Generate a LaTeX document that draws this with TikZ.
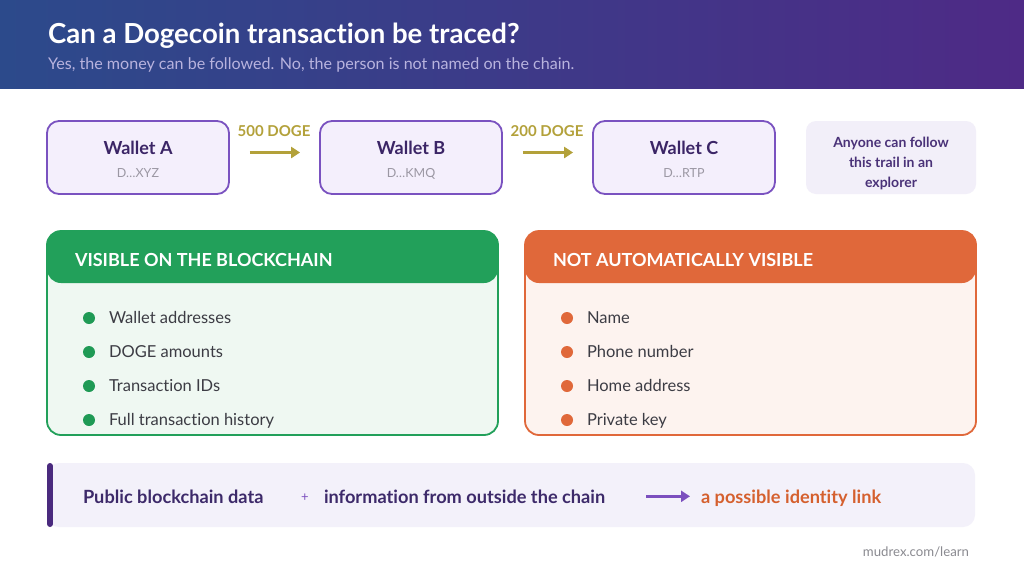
\documentclass[tikz,border=0pt]{standalone}
\usepackage{fontspec}
\setmainfont{Lato}[Ligatures=NoCommon]
\usetikzlibrary{arrows.meta}
\definecolor{hdrL}{HTML}{2C4A8B}
\definecolor{hdrR}{HTML}{4E2A86}
\definecolor{subc}{HTML}{B8B3DE}
\definecolor{wfill}{HTML}{F4EFFC}
\definecolor{wborder}{HTML}{7A52C0}
\definecolor{wtext}{HTML}{3B2566}
\definecolor{addr}{HTML}{9B97A3}
\definecolor{doge}{HTML}{B3A13A}
\definecolor{notefill}{HTML}{F2EFF9}
\definecolor{notetext}{HTML}{4A3278}
\definecolor{ghead}{HTML}{22A05A}
\definecolor{gbody}{HTML}{EFF8F2}
\definecolor{gdot}{HTML}{1F9A55}
\definecolor{ohead}{HTML}{E0683A}
\definecolor{obody}{HTML}{FDF3EF}
\definecolor{itemc}{HTML}{3C3C44}
\definecolor{barfill}{HTML}{F3F1FA}
\definecolor{accent}{HTML}{4A2A7E}
\definecolor{bartext}{HTML}{3D2A6A}
\definecolor{plusc}{HTML}{7B4FBE}
\definecolor{linkc}{HTML}{D5602E}
\definecolor{foot}{HTML}{8A8A90}
\newcommand\fsz[2]{\fontsize{#1}{#2}\selectfont}
\begin{document}
\begin{tikzpicture}[x=1pt,y=-1pt,
  txt/.style={inner sep=0pt, outer sep=0pt},
  wallet/.style={draw=wborder, line width=1.8pt, fill=wfill, rounded corners=12pt, minimum width=182pt, minimum height=73pt, inner sep=0pt},
  wtitle/.style={txt, anchor=base, text=wtext, font=\fsz{18}{21}\bfseries},
  waddr/.style={txt, anchor=base, text=addr, font=\fsz{12.5}{15}},
  dogelbl/.style={txt, anchor=base, text=doge, font=\fsz{15}{17}\bfseries},
  flow/.style={draw=doge, line width=3pt, -{Triangle[length=9pt,width=11pt]}},
  panel/.style={line width=1.8pt, rounded corners=14pt, minimum width=451pt, minimum height=204pt, inner sep=0pt},
  phead/.style={txt, anchor=base west, text=white, font=\fsz{18}{21}\bfseries},
  dotc/.style={circle, minimum size=12pt, inner sep=0pt},
  item/.style={txt, anchor=base west, text=itemc, font=\fsz{16.5}{19}},
  bartxt/.style={txt, anchor=base west, text=bartext, font=\fsz{18.2}{21}\bfseries},
]
\useasboundingbox (0,0) rectangle (1024,576);
\fill[white] (0,0) rectangle (1024,576);
% header
\shade[left color=hdrL, right color=hdrR] (0,0) rectangle (1024,88);
\node[txt, anchor=base west, text=white, font=\fsz{27.6}{31}\bfseries] (title) at (48,43) {Can a Dogecoin transaction be traced?};
\node[txt, anchor=base west, text=subc, font=\fsz{16.1}{19}] (subtitle) at (48,69.5) {Yes, the money can be followed. No, the person is not named on the chain.};
% wallets
\node[wallet] (wa) at (138,157.5) {};
\node[wallet] (wb) at (411,157.5) {};
\node[wallet] (wc) at (684,157.5) {};
\node[wtitle] (wat) at (138,154) {Wallet A};
\node[waddr] (waa) at (138,177) {D…XYZ};
\node[wtitle] (wbt) at (411,154) {Wallet B};
\node[waddr] (wba) at (411,177) {D…KMQ};
\node[wtitle] (wct) at (684,154) {Wallet C};
\node[waddr] (wca) at (684,177) {D…RTP};
\node[dogelbl] (l1) at (274,136) {500 DOGE};
\node[dogelbl] (l2) at (547,136) {200 DOGE};
\draw[flow, shorten <=20pt, shorten >=19pt] ([yshift=5pt]wa.east) -- ([yshift=5pt]wb.west);
\draw[flow, shorten <=20pt, shorten >=19pt] ([yshift=5pt]wb.east) -- ([yshift=5pt]wc.west);
% note
\node[fill=notefill, rounded corners=10pt, minimum width=170pt, minimum height=73pt, inner sep=0pt] (nt) at (891,157.5) {};
\node[txt, align=center, text=notetext, font=\fsz{14}{20}\bfseries] (ntt) at (891,163) {Anyone can follow\\this trail in an\\explorer};
% green panel
\node[panel, draw=ghead, fill=gbody, path picture={\fill[ghead] (path picture bounding box.north west) rectangle ([yshift=-52pt]path picture bounding box.north east);}] (vis) at (272.5,333) {};
\node[phead] (vish) at (75,266) {VISIBLE ON THE BLOCKCHAIN};
\node[dotc, fill=gdot] (vd1) at (89,318) {};
\node[dotc, fill=gdot] (vd2) at (89,352) {};
\node[dotc, fill=gdot] (vd3) at (89,386) {};
\node[dotc, fill=gdot] (vd4) at (89,420) {};
\node[item] (vi1) at (109,323.5) {Wallet addresses};
\node[item] (vi2) at (109,357.5) {DOGE amounts};
\node[item] (vi3) at (109,391.5) {Transaction IDs};
\node[item] (vi4) at (109,425.5) {Full transaction history};
% orange panel
\node[panel, draw=ohead, fill=obody, path picture={\fill[ohead] (path picture bounding box.north west) rectangle ([yshift=-52pt]path picture bounding box.north east);}] (nv) at (750.5,333) {};
\node[phead] (nvh) at (553,266) {NOT AUTOMATICALLY VISIBLE};
\node[dotc, fill=ohead] (nd1) at (567,318) {};
\node[dotc, fill=ohead] (nd2) at (567,352) {};
\node[dotc, fill=ohead] (nd3) at (567,386) {};
\node[dotc, fill=ohead] (nd4) at (567,420) {};
\node[item] (ni1) at (587,323.5) {Name};
\node[item] (ni2) at (587,357.5) {Phone number};
\node[item] (ni3) at (587,391.5) {Home address};
\node[item] (ni4) at (587,425.5) {Private key};
% bottom bar
\node[fill=barfill, rounded corners=12pt, minimum width=928pt, minimum height=64pt, inner sep=0pt] (bb) at (511,495) {};
\draw[accent, line width=6pt, line cap=round] (50,466) -- (50,524);
\node[bartxt] (pub) at (83,503) {Public blockchain data};
\node[txt, anchor=base, text=plusc, font=\fsz{13}{15}] (plus) at (305,501) {+};
\node[bartxt] (info) at (324,503) {information from outside the chain};
\node[bartxt, text=linkc] (link) at (701,503) {a possible identity link};
\draw[draw=plusc, line width=3pt, -{Triangle[length=9pt,width=11pt]}, shorten <=41pt, shorten >=11pt] (info.east) -- (info.east -| link.west);
% footer
\node[txt, anchor=base east, text=foot, font=\fsz{13.2}{15}] (ft) at (969,556) {mudrex.com/learn};
\end{tikzpicture}
\end{document}
